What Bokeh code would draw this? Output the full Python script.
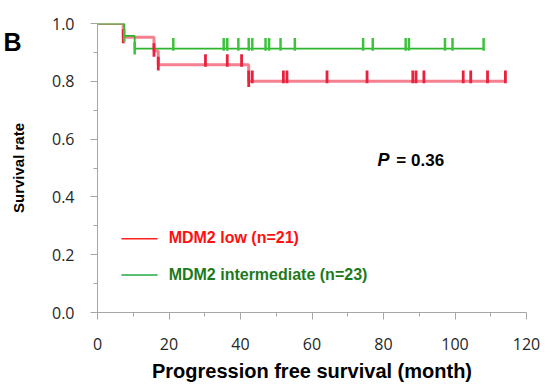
from bokeh.plotting import figure
from bokeh.models import FixedTicker, Label, Range1d, CustomJSTickFormatter, Title
from bokeh.embed import file_html
from bokeh.resources import INLINE

# ---- data ----
low_step_t = [0.0, 7.2, 15.8, 17.0, 42.3, 114.1]
low_step_s = [1.0, 0.952, 0.905, 0.857, 0.800, 0.800]
low_censor_t = [30.2, 36.3, 40.3, 43.3, 52.0, 53.0, 64.2, 75.4, 88.2, 89.1,
                91.3, 102.3, 104.4, 109.1, 114.1]

int_step_t = [0.0, 7.5, 10.4, 108.0]
int_step_s = [1.0, 0.957, 0.913, 0.913]
int_censor_t = [21.2, 35.3, 36.3, 39.4, 42.3, 43.3, 47.0, 48.0, 51.2, 55.2,
                74.3, 77.0, 86.2, 87.1, 97.2, 99.3, 108.0]

x_ticks = [0, 20, 40, 60, 80, 100, 120]
x_minor = [10, 30, 50, 70, 90, 110]
y_ticks = [0.0, 0.2, 0.4, 0.6, 0.8, 1.0]
y_minor = [0.1, 0.3, 0.5, 0.7, 0.9]

legend_labels = ["MDM2 low (n=21)", "MDM2 intermediate (n=23)"]
p_value_text = "= 0.36"
panel_letter = "B"


def surv_at(ts, ss, t):
    s = ss[0]
    for ti, si in zip(ts, ss):
        if ti <= t:
            s = si
    return s


p = figure(width=552, height=385, output_backend="svg", toolbar_location=None,
           x_range=Range1d(0, 120), y_range=Range1d(0, 1.0),
           min_border_left=97, min_border_right=26, min_border_top=23,
           min_border_bottom=73)
p.outline_line_color = None
p.xgrid.visible = False
p.ygrid.visible = False
p.background_fill_color = "white"
p.border_fill_color = "white"

AX = "#a6a6a6"
for ax in (p.xaxis[0], p.yaxis[0]):
    ax.axis_line_color = AX
    ax.major_tick_line_color = AX
    ax.minor_tick_line_color = AX
    ax.major_tick_in = 0
    ax.minor_tick_in = 0
    ax.major_tick_out = 7
    ax.minor_tick_out = 4
    ax.major_label_text_font = "Open Sans"
    ax.major_label_text_font_size = "16px"
    ax.major_label_text_color = "#262626"
    ax.axis_label_text_font = "Liberation Sans"
    ax.axis_label_text_font_style = "bold"
    ax.axis_label_text_color = "#000000"

p.xaxis.ticker = FixedTicker(ticks=x_ticks, minor_ticks=x_minor)
p.yaxis.ticker = FixedTicker(ticks=y_ticks, minor_ticks=y_minor)
p.yaxis.formatter = CustomJSTickFormatter(code="return tick.toFixed(1);")
p.xaxis.major_label_standoff = 18
p.yaxis.major_label_standoff = 16
p.xaxis.axis_label = "Progression free survival (month)"
p.xaxis.axis_label_text_font_size = "20px"
p.xaxis.axis_label_standoff = 7
p.yaxis.axis_label = "Survival rate"
p.yaxis.axis_label_text_font_size = "15px"
p.yaxis.axis_label_standoff = 22

RED_LINE = "#f5808f"
RED_TICK = "#e8213d"
GREEN_LINE = "#2db52d"
GREEN_TICK = "#3cc33c"

# curves
p.step(low_step_t, low_step_s, mode="after", line_color=RED_LINE, line_width=3)
p.step(int_step_t, int_step_s, mode="after", line_color=GREEN_LINE, line_width=1.8)


# event marks (vertical drops)
def event_marks(ts, ss):
    x, y0, y1 = [], [], []
    for i in range(1, len(ts) - 1):
        x.append(ts[i])
        y0.append(ss[i] - 0.02)
        y1.append(ss[i - 1] - 0.02)
    return x, y0, y1


ex, ey0, ey1 = event_marks(low_step_t, low_step_s)
p.segment(ex, ey0, ex, ey1, line_color=RED_TICK, line_width=2.8)
gx, gy0, gy1 = event_marks(int_step_t, int_step_s)
p.segment(gx, gy0, gx, gy1, line_color=GREEN_TICK, line_width=2.5)

# censor ticks
lc_s = [surv_at(low_step_t, low_step_s, t) for t in low_censor_t]
p.segment(low_censor_t, [s - 0.007 for s in lc_s], low_censor_t,
          [s + 0.037 for s in lc_s], line_color=RED_TICK, line_width=2.8)
ic_s = [surv_at(int_step_t, int_step_s, t) for t in int_censor_t]
p.segment(int_censor_t, [s - 0.007 for s in ic_s], int_censor_t,
          [s + 0.037 for s in ic_s], line_color=GREEN_TICK, line_width=2.5)

# legend (drawn manually)
p.segment([6.7], [0.255], [16.8], [0.255], line_color="#ff2020", line_width=1.5)
p.segment([6.7], [0.130], [16.8], [0.130], line_color="#22aa44", line_width=1.5)
p.add_layout(Label(x=19.9, y=0.258, text=legend_labels[0], text_font="Liberation Sans",
                   text_font_style="bold", text_font_size="16px", text_color="#ff1010",
                   text_baseline="middle"))
p.add_layout(Label(x=19.9, y=0.133, text=legend_labels[1], text_font="Liberation Sans",
                   text_font_style="bold", text_font_size="16px", text_color="#1c7a1c",
                   text_baseline="middle"))

# p value
p.add_layout(Label(x=78.3, y=0.527, text="P", text_font="Liberation Sans",
                   text_font_style="bold italic", text_font_size="18px",
                   text_color="#000000", text_baseline="middle"))
p.add_layout(Label(x=83.6, y=0.527, text=p_value_text, text_font="Liberation Sans",
                   text_font_style="bold", text_font_size="17px",
                   text_color="#000000", text_baseline="middle"))

# panel letter as a title pushed into the left margin
p.add_layout(Title(text=panel_letter, align="left", vertical_align="bottom",
                   offset=-94, standoff=-64, text_font="Liberation Sans",
                   text_font_style="bold", text_font_size="25px",
                   text_color="#000000"), "above")

open("out.html", "w").write(file_html(p, INLINE))
